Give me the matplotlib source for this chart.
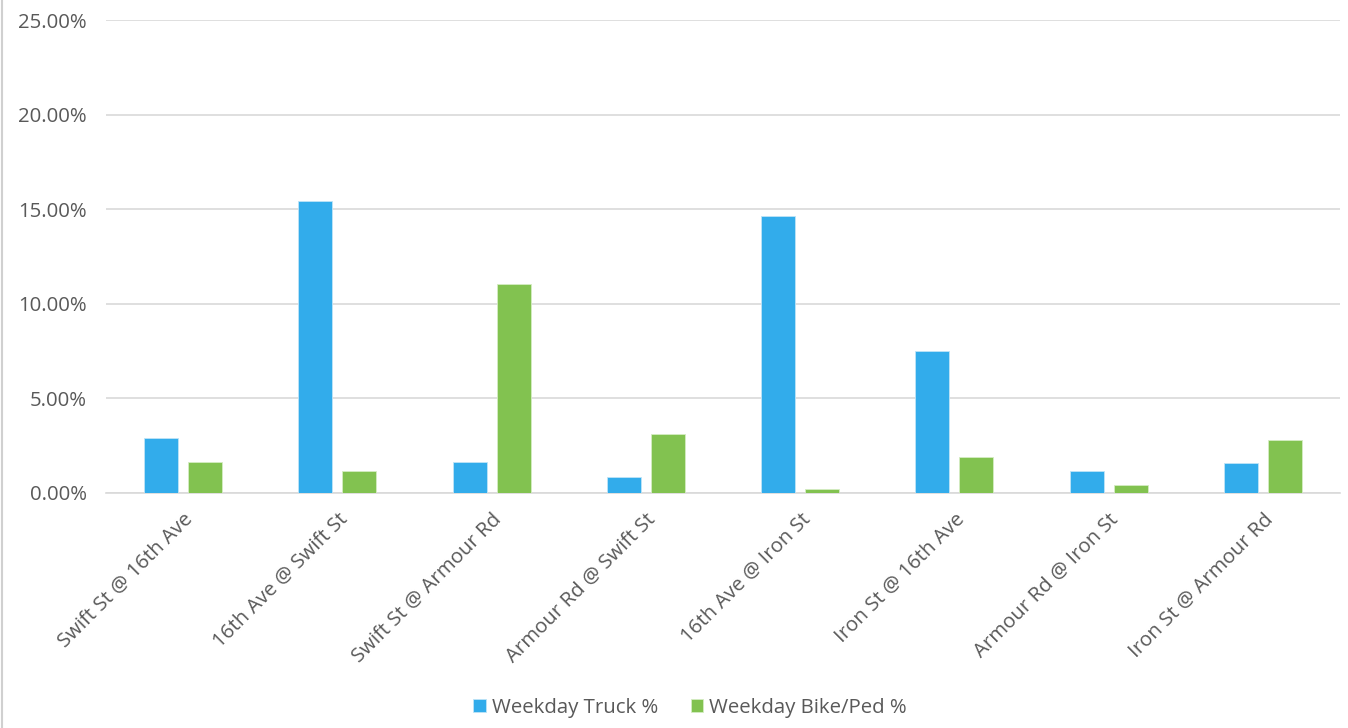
import matplotlib
matplotlib.use("Agg")
import matplotlib.pyplot as plt
from matplotlib.ticker import FuncFormatter
import numpy as np

categories = ["Swift St @ 16th Ave", "16th Ave @ Swift St", "Swift St @ Armour Rd",
              "Armour Rd @ Swift St", "16th Ave @ Iron St", "Iron St @ 16th Ave",
              "Armour Rd @ Iron St", "Iron St @ Armour Rd"]
truck_pct = [2.89, 15.45, 1.66, 0.86, 14.64, 7.50, 1.16, 1.59]
bikeped_pct = [1.66, 1.16, 11.06, 3.10, 0.23, 1.89, 0.44, 2.79]
series_names = ["Weekday Truck %", "Weekday Bike/Ped %"]
yticks = [0, 5, 10, 15, 20, 25]

plt.rcParams['font.family'] = ['Open Sans', 'DejaVu Sans']
txt = '#595959'
fs = 14.7

fig = plt.figure(figsize=(13.48, 7.28), dpi=100)
ax = fig.add_axes([106/1348, 1-493/728, (1340-106)/1348, (493-20)/728])

x = np.arange(len(categories))
w = 0.22
off = 0.143
ax.bar(x - off, truck_pct, w, color='#32ACEB', edgecolor='#bfe4f7', linewidth=0.6, zorder=3, label=series_names[0])
ax.bar(x + off, bikeped_pct, w, color='#82C250', edgecolor='#d5ecc3', linewidth=0.6, zorder=3, label=series_names[1])

ax.set_xlim(-0.5, len(categories) - 0.5)
ax.set_ylim(0, 25)
ax.set_yticks(yticks)
ax.yaxis.set_major_formatter(FuncFormatter(lambda v, p: f"{v:.2f}%"))
ax.grid(axis='y', color='#d9d9d9', linewidth=1.2, zorder=0)
for s in ['top', 'right', 'left']:
    ax.spines[s].set_visible(False)
ax.spines['bottom'].set_color('#d9d9d9')
ax.spines['bottom'].set_linewidth(1.2)
ax.tick_params(axis='y', length=0, pad=14, labelsize=fs, labelcolor=txt)
ax.tick_params(axis='x', length=0, pad=12, labelsize=fs, labelcolor=txt)
ax.set_xticks(x)
ax.set_xticklabels(categories, rotation=45, ha='right', rotation_mode='anchor')

leg = fig.legend(loc='center', bbox_to_anchor=(690/1348, 1-708/728), ncol=2, frameon=False,
                 fontsize=fs, handlelength=0.6, handleheight=0.6, columnspacing=1.6, handletextpad=0.3)
for t in leg.get_texts():
    t.set_color(txt)

fig.add_artist(plt.Line2D([2/1348, 2/1348], [0, 1], color='#d0d0d0', linewidth=1.5, transform=fig.transFigure))

fig.savefig('out.png', dpi=100)
